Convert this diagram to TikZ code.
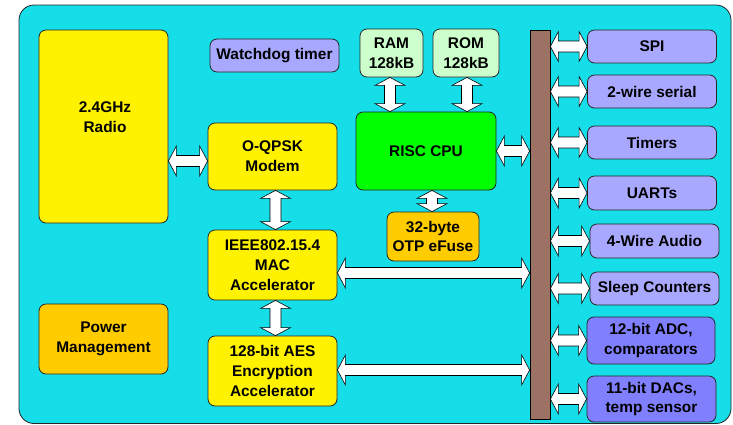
\documentclass[tikz,border=0pt]{standalone}
\usepackage{fontspec}
\setmainfont{Liberation Sans}
\usepackage{tikz}
\usetikzlibrary{positioning,calc}
\definecolor{chipcyan}{RGB}{22,222,232}
\definecolor{lav}{RGB}{168,168,255}
\definecolor{lavdark}{RGB}{128,128,255}
\definecolor{mint}{RGB}{204,255,204}
\definecolor{amber}{RGB}{255,204,0}
\definecolor{busbrown}{RGB}{155,114,100}

\begin{document}
\begin{tikzpicture}[x=1bp, y=-1bp,
    box/.style={draw=black!85, line width=0.8bp, rounded corners=7bp, inner sep=0pt, align=center,
        font=\fontsize{15.5}{20}\selectfont\bfseries},
    ylw/.style={box, fill=yellow},
    per/.style={box, fill=lav, minimum width=129bp},
    lbl/.style={inner sep=0pt, align=center, font=\fontsize{15.5}{20}\selectfont\bfseries},
    fat/.style={fill=white, draw=black, line width=0.6bp, line join=miter, to path={
        ($(\tikztostart)!8bp!(\tikztotarget)$) coordinate (fa)
        ($(\tikztotarget)!8bp!(\tikztostart)$) coordinate (fb)
        (\tikztostart)
        -- ($(fa)!15bp!90:(\tikztotarget)$) -- ($(fa)!5.5bp!90:(\tikztotarget)$)
        -- ($(fb)!5.5bp!-90:(\tikztostart)$) -- ($(fb)!15bp!-90:(\tikztostart)$)
        -- (\tikztotarget)
        -- ($(fb)!15bp!90:(\tikztostart)$) -- ($(fb)!5.5bp!90:(\tikztostart)$)
        -- ($(fa)!5.5bp!-90:(\tikztotarget)$) -- ($(fa)!15bp!-90:(\tikztotarget)$)
        -- cycle}},
]
\useasboundingbox (0,0) rectangle (733,424);
% chip outline
\draw[fill=chipcyan, draw=black!85, line width=0.8bp, rounded corners=15bp] (19,5) rectangle (731,423.5);

% Radio side
\node[ylw, minimum width=129bp, minimum height=193bp] (radio) at (103.5,126.5) {};
\node[lbl] (radiolbl) at (105,117) {2.4GHz\\Radio};
\node[box, fill=amber, minimum width=129bp, minimum height=70bp] (power) at (103.5,339) {Power\\Management};

% Modem, MAC, AES
\node[box, fill=lav, minimum width=129bp, minimum height=33bp] (wdog) at (274.5,55.5) {Watchdog timer};
\node[ylw, minimum width=129bp, minimum height=67bp] (modem) at (272.5,156.5) {O-QPSK\\Modem};
\node[ylw, minimum width=129bp, minimum height=70bp] (mac) at (272.5,265) {IEEE802.15.4\\MAC\\Accelerator};
\node[ylw, minimum width=129bp, minimum height=70bp] (aes) at (272.5,371) {128-bit AES\\Encryption\\Accelerator};

% CPU and memories
\node[box, fill=mint, minimum width=63bp, minimum height=48bp] (ram) at (391.5,53) {RAM\\128kB};
\node[box, fill=mint, minimum width=66bp, minimum height=48bp] (rom) at (466,53) {ROM\\128kB};
\node[box, fill=green, minimum width=140bp, minimum height=78bp] (cpu) at (426,151) {RISC CPU};
\node[box, fill=amber, minimum width=92bp, minimum height=49bp] (otp) at (433,236.5) {32-byte\\OTP eFuse};

% Bus
\node[draw=black, line width=0.8bp, fill=busbrown, minimum width=20bp, minimum height=389bp, inner sep=0pt] (bus) at (540,224.5) {};

% Peripherals
\node[per, minimum height=33bp] (spi) at (652,46.5) {\raisebox{-4bp}{SPI}};
\node[per, minimum height=33bp] (twi) at (652,91.5) {\raisebox{-2bp}{2-wire serial}};
\node[per, minimum height=33bp] (tmr) at (652,142.5) {Timers};
\node[per, minimum height=34bp] (uart) at (652,193) {\raisebox{-3bp}{UARTs}};
\node[per, minimum height=34bp] (audio) at (654.5,241) {4-Wire Audio};
\node[per, minimum height=33bp] (sleep) at (654.5,288.5) {\raisebox{-3bp}{Sleep Counters}};
\node[per, fill=lavdark, minimum width=128bp, minimum height=47bp] (adc) at (651,340.5) {12-bit ADC,\\comparators};
\node[per, fill=lavdark, minimum height=46bp] (dac) at (651.5,399) {11-bit DACs,\\temp sensor};

% Block arrows
\draw[fat] (radio.east |- 0,161) to (modem.west |- 0,161);
\draw[fat] (modem.south -| 275.5,0) to (mac.north -| 275.5,0);
\draw[fat] (mac.south -| 275.5,0) to (aes.north -| 275.5,0);
\draw[fat] (ram.south -| 390,0) to (cpu.north -| 390,0);
\draw[fat] (rom.south -| 467,0) to (cpu.north -| 467,0);
\draw[fat] (cpu.south -| 432,0) to (otp.north -| 432,0);
\draw[fat] (cpu.east) to (bus.west |- cpu.east);
\draw[fat] (mac.east |- 0,273) to (bus.west |- 0,273);
\draw[fat] (aes.east |- 0,370) to (bus.west |- 0,370);
\foreach \p in {spi,twi,tmr,uart,audio,sleep,adc,dac}
    \draw[fat] (bus.east |- \p.west) to (\p.west);
\end{tikzpicture}
\end{document}
